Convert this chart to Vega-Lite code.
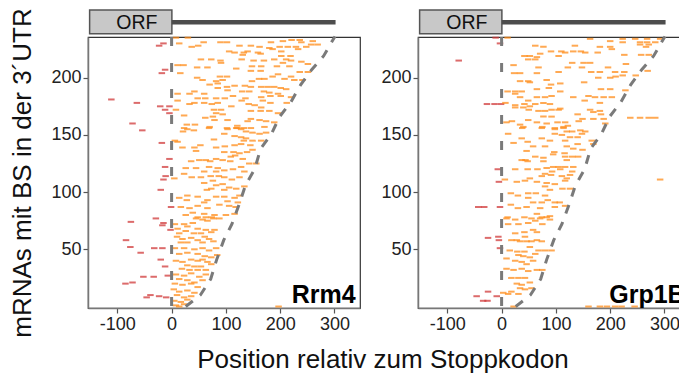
{
"$schema": "https://vega.github.io/schema/vega-lite/v6.json",
"background": "white",
"padding": {"left": 9, "top": 7, "right": 0, "bottom": 0},
"config": {
 "font": "Liberation Sans",
 "view": {"stroke": "#333", "strokeWidth": 1.2},
 "axis": {"grid": false, "labelFont": "Liberation Sans", "labelFontSize": 18, "labelColor": "#222", "tickColor": "#555", "tickSize": 5, "tickWidth": 1.2, "domainColor": "#777", "domainWidth": 1.5, "titleFont": "Liberation Sans", "titleFontSize": 26, "titleFontWeight": "normal", "titleColor": "#111", "labelPadding": 2},
 "concat": {"spacing": 19},
 "title": {"font": "Liberation Sans", "fontSize": 26, "fontWeight": "normal", "color": "#111"}
},
"title": {"text": "Position relativ zum Stoppkodon", "orient": "bottom", "anchor": "middle", "offset": 9, "dx": 33},
"datasets": {
 "utr": [{"x":26,"y":0},{"x":53,"y":10},{"x":72,"y":24},{"x":83,"y":41},{"x":96,"y":58},{"x":111,"y":72},{"x":125,"y":90},{"x":136,"y":106},{"x":153,"y":120},{"x":164,"y":138},{"x":184,"y":151},{"x":199,"y":166},{"x":220,"y":179},{"x":238,"y":194},{"x":258,"y":207},{"x":280,"y":219},{"x":297,"y":233},{"x":301,"y":236}],
 "pts": [
{"p":"R","x":-15,"y":230},{"p":"R","x":-23,"y":228},{"p":"R","x":-12,"y":207},{"p":"R","x":-18,"y":204},{"p":"R","x":-111,"y":181},{"p":"R","x":-64,"y":178},{"p":"R","x":-21,"y":175},{"p":"R","x":-4,"y":175},{"p":"R","x":-12,"y":172},{"p":"R","x":-4,"y":169},{"p":"R","x":-72,"y":160},{"p":"R","x":-54,"y":154},{"p":"R","x":-18,"y":143},{"p":"R","x":-4,"y":129},{"p":"R","x":-12,"y":122},{"p":"R","x":-11,"y":114},{"p":"R","x":-15,"y":111},{"p":"R","x":-20,"y":102},{"p":"R","x":-1,"y":87},{"p":"R","x":-29,"y":77},{"p":"R","x":-75,"y":74},{"p":"R","x":-15,"y":73},{"p":"R","x":-17,"y":71},{"p":"R","x":-2,"y":67},{"p":"R","x":-84,"y":58},{"p":"R","x":-76,"y":52},{"p":"R","x":-57,"y":47},{"p":"R","x":-32,"y":51},{"p":"R","x":-17,"y":51},{"p":"R","x":-20,"y":41},{"p":"R","x":-12,"y":35},{"p":"R","x":-52,"y":26},{"p":"R","x":-33,"y":26},{"p":"R","x":-7,"y":27},{"p":"R","x":-85,"y":20},{"p":"R","x":-72,"y":21},{"p":"R","x":-46,"y":8},{"p":"R","x":-39,"y":10},{"p":"R","x":-23,"y":9},{"p":"R","x":-10,"y":8},
{"p":"R","x":8,"y":235},{"p":"R","x":30,"y":235},
{"p":"R","x":14,"y":230},{"p":"R","x":59,"y":231},{"p":"R","x":90,"y":231},{"p":"R","x":102,"y":231},{"p":"R","x":183,"y":231},{"p":"R","x":205,"y":232},{"p":"R","x":221,"y":233},{"p":"R","x":236,"y":233},{"p":"R","x":239,"y":231},{"p":"R","x":260,"y":232},{"p":"R","x":269,"y":229},{"p":"R","x":257,"y":229},
{"p":"R","x":37,"y":227},{"p":"R","x":49,"y":228},{"p":"R","x":125,"y":228},{"p":"R","x":146,"y":228},{"p":"R","x":162,"y":227},{"p":"R","x":180,"y":226},{"p":"R","x":199,"y":227},{"p":"R","x":214,"y":227},{"p":"R","x":229,"y":227},{"p":"R","x":248,"y":227},
{"p":"R","x":106,"y":223},{"p":"R","x":116,"y":222},{"p":"R","x":133,"y":222},{"p":"R","x":140,"y":223},{"p":"R","x":159,"y":222},{"p":"R","x":186,"y":225},{"p":"R","x":202,"y":223},{"p":"R","x":233,"y":225},
{"p":"R","x":131,"y":220},{"p":"R","x":164,"y":221},{"p":"R","x":219,"y":219},{"p":"R","x":202,"y":219},
{"p":"R","x":54,"y":216},{"p":"R","x":73,"y":216},{"p":"R","x":90,"y":215},{"p":"R","x":129,"y":216},{"p":"R","x":151,"y":215},{"p":"R","x":170,"y":215},{"p":"R","x":189,"y":216},{"p":"R","x":211,"y":216},{"p":"R","x":220,"y":215},
{"p":"R","x":91,"y":213},{"p":"R","x":205,"y":213},{"p":"R","x":239,"y":214},{"p":"R","x":251,"y":212},
{"p":"R","x":11,"y":211},{"p":"R","x":22,"y":211},{"p":"R","x":47,"y":209},{"p":"R","x":66,"y":209},{"p":"R","x":119,"y":208},{"p":"R","x":148,"y":210},{"p":"R","x":165,"y":210},{"p":"R","x":194,"y":210},{"p":"R","x":217,"y":210},
{"p":"R","x":146,"y":206},{"p":"R","x":164,"y":206},{"p":"R","x":236,"y":205},{"p":"R","x":251,"y":205},
{"p":"R","x":16,"y":204},{"p":"R","x":196,"y":203},{"p":"R","x":220,"y":201},{"p":"R","x":186,"y":201},{"p":"R","x":89,"y":201},{"p":"R","x":102,"y":201},
{"p":"R","x":47,"y":200},{"p":"R","x":57,"y":198},{"p":"R","x":82,"y":197},{"p":"R","x":94,"y":198},{"p":"R","x":161,"y":199},{"p":"R","x":171,"y":199},{"p":"R","x":208,"y":199},{"p":"R","x":226,"y":198},{"p":"R","x":241,"y":198},{"p":"R","x":148,"y":197},{"p":"R","x":70,"y":194},{"p":"R","x":85,"y":195},
{"p":"R","x":85,"y":191},{"p":"R","x":102,"y":192},{"p":"R","x":116,"y":193},{"p":"R","x":165,"y":192},{"p":"R","x":177,"y":192},{"p":"R","x":189,"y":192},{"p":"R","x":201,"y":191},{"p":"R","x":211,"y":190},{"p":"R","x":135,"y":193},{"p":"R","x":146,"y":192},
{"p":"R","x":42,"y":188},{"p":"R","x":60,"y":186},{"p":"R","x":103,"y":189},{"p":"R","x":130,"y":188},{"p":"R","x":143,"y":188},{"p":"R","x":170,"y":188},{"p":"R","x":180,"y":187},{"p":"R","x":196,"y":186},{"p":"R","x":220,"y":183},
{"p":"R","x":11,"y":186},{"p":"R","x":33,"y":186},{"p":"R","x":48,"y":182},{"p":"R","x":62,"y":182},{"p":"R","x":82,"y":182},{"p":"R","x":98,"y":182},{"p":"R","x":113,"y":184},{"p":"R","x":136,"y":182},{"p":"R","x":165,"y":183},{"p":"R","x":182,"y":184},{"p":"R","x":201,"y":184},{"p":"R","x":168,"y":180},
{"p":"R","x":11,"y":180},{"p":"R","x":33,"y":177},{"p":"R","x":42,"y":178},{"p":"R","x":60,"y":178},{"p":"R","x":74,"y":177},{"p":"R","x":85,"y":178},{"p":"R","x":110,"y":175},{"p":"R","x":129,"y":180},{"p":"R","x":142,"y":177},{"p":"R","x":153,"y":176},{"p":"R","x":165,"y":174},{"p":"R","x":182,"y":178},{"p":"R","x":212,"y":178},
{"p":"R","x":8,"y":172},{"p":"R","x":23,"y":167},{"p":"R","x":78,"y":172},{"p":"R","x":91,"y":172},{"p":"R","x":82,"y":169},{"p":"R","x":94,"y":168},{"p":"R","x":164,"y":171},{"p":"R","x":180,"y":171},{"p":"R","x":196,"y":169},{"p":"R","x":146,"y":171},
{"p":"R","x":62,"y":165},{"p":"R","x":76,"y":166},{"p":"R","x":79,"y":163},{"p":"R","x":103,"y":163},{"p":"R","x":140,"y":162},{"p":"R","x":146,"y":164},{"p":"R","x":162,"y":163},{"p":"R","x":174,"y":162},{"p":"R","x":189,"y":161},
{"p":"R","x":28,"y":159},{"p":"R","x":43,"y":159},{"p":"R","x":121,"y":158},{"p":"R","x":121,"y":156},{"p":"R","x":133,"y":156},{"p":"R","x":146,"y":156},{"p":"R","x":171,"y":157},{"p":"R","x":70,"y":157},{"p":"R","x":102,"y":156},{"p":"R","x":23,"y":156},
{"p":"R","x":29,"y":155},{"p":"R","x":41,"y":154},{"p":"R","x":69,"y":156},{"p":"R","x":103,"y":155},{"p":"R","x":119,"y":156},{"p":"R","x":128,"y":155},{"p":"R","x":137,"y":153},{"p":"R","x":149,"y":152},{"p":"R","x":162,"y":151},{"p":"R","x":174,"y":152},{"p":"R","x":21,"y":153},
{"p":"R","x":97,"y":151},{"p":"R","x":116,"y":149},{"p":"R","x":128,"y":148},{"p":"R","x":137,"y":147},{"p":"R","x":149,"y":145},{"p":"R","x":165,"y":145},{"p":"R","x":133,"y":145},{"p":"R","x":78,"y":146},{"p":"R","x":6,"y":145},{"p":"R","x":11,"y":144},
{"p":"R","x":20,"y":139},{"p":"R","x":42,"y":139},{"p":"R","x":53,"y":141},{"p":"R","x":82,"y":139},{"p":"R","x":98,"y":140},{"p":"R","x":116,"y":141},{"p":"R","x":128,"y":142},{"p":"R","x":145,"y":141},
{"p":"R","x":45,"y":136},{"p":"R","x":97,"y":135},{"p":"R","x":114,"y":135},{"p":"R","x":125,"y":134},{"p":"R","x":139,"y":135},{"p":"R","x":149,"y":137},{"p":"R","x":109,"y":131},{"p":"R","x":117,"y":132},
{"p":"R","x":36,"y":127},{"p":"R","x":51,"y":128},{"p":"R","x":63,"y":128},{"p":"R","x":71,"y":127},{"p":"R","x":82,"y":129},{"p":"R","x":94,"y":128},{"p":"R","x":108,"y":127},{"p":"R","x":131,"y":129},{"p":"R","x":143,"y":125},{"p":"R","x":156,"y":125},
{"p":"R","x":26,"y":121},{"p":"R","x":45,"y":121},{"p":"R","x":69,"y":122},{"p":"R","x":85,"y":121},{"p":"R","x":97,"y":119},{"p":"R","x":113,"y":120},{"p":"R","x":128,"y":122},{"p":"R","x":134,"y":118},{"p":"R","x":60,"y":118},{"p":"R","x":82,"y":118},
{"p":"R","x":23,"y":116},{"p":"R","x":37,"y":113},{"p":"R","x":54,"y":113},{"p":"R","x":72,"y":114},{"p":"R","x":87,"y":114},{"p":"R","x":97,"y":113},{"p":"R","x":111,"y":111},{"p":"R","x":125,"y":113},{"p":"R","x":5,"y":112},{"p":"R","x":76,"y":110},
{"p":"R","x":60,"y":108},{"p":"R","x":82,"y":106},{"p":"R","x":94,"y":107},{"p":"R","x":106,"y":104},{"p":"R","x":119,"y":103},{"p":"R","x":134,"y":105},{"p":"R","x":73,"y":103},{"p":"R","x":97,"y":102},{"p":"R","x":65,"y":102},
{"p":"R","x":14,"y":95},{"p":"R","x":29,"y":97},{"p":"R","x":48,"y":96},{"p":"R","x":66,"y":93},{"p":"R","x":82,"y":96},{"p":"R","x":97,"y":96},{"p":"R","x":116,"y":95},{"p":"R","x":125,"y":97},{"p":"R","x":28,"y":93},{"p":"R","x":60,"y":91},{"p":"R","x":103,"y":92},{"p":"R","x":122,"y":91},
{"p":"R","x":17,"y":87},{"p":"R","x":33,"y":86},{"p":"R","x":48,"y":88},{"p":"R","x":66,"y":86},{"p":"R","x":88,"y":89},{"p":"R","x":106,"y":88},{"p":"R","x":118,"y":87},{"p":"R","x":39,"y":82},{"p":"R","x":60,"y":81},{"p":"R","x":79,"y":80},{"p":"R","x":100,"y":80},{"p":"R","x":116,"y":81},{"p":"R","x":26,"y":80},{"p":"R","x":48,"y":78},{"p":"R","x":74,"y":78},
{"p":"R","x":6,"y":72},{"p":"R","x":23,"y":72},{"p":"R","x":39,"y":73},{"p":"R","x":57,"y":76},{"p":"R","x":66,"y":75},{"p":"R","x":77,"y":77},{"p":"R","x":88,"y":77},{"p":"R","x":45,"y":77},{"p":"R","x":63,"y":78},
{"p":"R","x":11,"y":68},{"p":"R","x":29,"y":70},{"p":"R","x":48,"y":68},{"p":"R","x":63,"y":67},{"p":"R","x":79,"y":67},{"p":"R","x":14,"y":64},{"p":"R","x":26,"y":66},{"p":"R","x":41,"y":64},{"p":"R","x":54,"y":64},{"p":"R","x":73,"y":65},
{"p":"R","x":10,"y":61},{"p":"R","x":20,"y":59},{"p":"R","x":36,"y":60},{"p":"R","x":48,"y":58},{"p":"R","x":61,"y":61},{"p":"R","x":69,"y":59},{"p":"R","x":17,"y":56},{"p":"R","x":29,"y":56},{"p":"R","x":57,"y":56},{"p":"R","x":77,"y":57},
{"p":"R","x":6,"y":51},{"p":"R","x":23,"y":51},{"p":"R","x":42,"y":50},{"p":"R","x":57,"y":51},{"p":"R","x":69,"y":49},{"p":"R","x":82,"y":51},{"p":"R","x":14,"y":46},{"p":"R","x":29,"y":47},{"p":"R","x":48,"y":46},{"p":"R","x":61,"y":44},{"p":"R","x":73,"y":43},{"p":"R","x":84,"y":45},
{"p":"R","x":8,"y":40},{"p":"R","x":20,"y":39},{"p":"R","x":36,"y":41},{"p":"R","x":48,"y":40},{"p":"R","x":57,"y":41},{"p":"R","x":66,"y":39},{"p":"R","x":29,"y":36},{"p":"R","x":42,"y":35},{"p":"R","x":54,"y":35},{"p":"R","x":73,"y":37},{"p":"R","x":19,"y":33},{"p":"R","x":33,"y":32},{"p":"R","x":48,"y":32},{"p":"R","x":63,"y":32},
{"p":"R","x":8,"y":28},{"p":"R","x":23,"y":27},{"p":"R","x":36,"y":29},{"p":"R","x":51,"y":26},{"p":"R","x":63,"y":28},{"p":"R","x":14,"y":24},{"p":"R","x":29,"y":23},{"p":"R","x":42,"y":21},{"p":"R","x":57,"y":23},{"p":"R","x":6,"y":20},{"p":"R","x":20,"y":19},{"p":"R","x":36,"y":20},{"p":"R","x":48,"y":17},
{"p":"R","x":4,"y":15},{"p":"R","x":14,"y":13},{"p":"R","x":29,"y":14},{"p":"R","x":42,"y":12},{"p":"R","x":10,"y":10},{"p":"R","x":23,"y":8},{"p":"R","x":36,"y":9},{"p":"R","x":5,"y":5},{"p":"R","x":17,"y":4},{"p":"R","x":29,"y":6},{"p":"R","x":8,"y":1},{"p":"R","x":14,"y":0},{"p":"R","x":23,"y":2},{"p":"R","x":197,"y":0},
{"p":"G","x":-11,"y":235},{"p":"G","x":-3,"y":230},{"p":"G","x":-79,"y":215},{"p":"G","x":-27,"y":177},{"p":"G","x":-13,"y":177},{"p":"G","x":-1,"y":177},{"p":"G","x":-7,"y":120},{"p":"G","x":-5,"y":109},{"p":"G","x":-43,"y":87},{"p":"G","x":-32,"y":87},{"p":"G","x":-3,"y":87},{"p":"G","x":-25,"y":60},{"p":"G","x":-6,"y":61},{"p":"G","x":-5,"y":58},{"p":"G","x":-3,"y":51},{"p":"G","x":-46,"y":9},{"p":"G","x":-25,"y":13},{"p":"G","x":-9,"y":9},{"p":"G","x":-26,"y":5},{"p":"G","x":-34,"y":5},
{"p":"G","x":11,"y":235},{"p":"G","x":163,"y":234},{"p":"G","x":200,"y":232},{"p":"G","x":223,"y":234},{"p":"G","x":223,"y":231},{"p":"G","x":246,"y":234},{"p":"G","x":268,"y":234},{"p":"G","x":268,"y":231},{"p":"G","x":255,"y":231},{"p":"G","x":283,"y":231},{"p":"G","x":292,"y":234},
{"p":"G","x":62,"y":228},{"p":"G","x":77,"y":227},{"p":"G","x":135,"y":228},{"p":"G","x":181,"y":227},{"p":"G","x":200,"y":227},{"p":"G","x":203,"y":225},{"p":"G","x":255,"y":229},{"p":"G","x":271,"y":229},{"p":"G","x":266,"y":227},
{"p":"G","x":71,"y":221},{"p":"G","x":91,"y":223},{"p":"G","x":110,"y":223},{"p":"G","x":117,"y":222},{"p":"G","x":132,"y":223},{"p":"G","x":146,"y":223},{"p":"G","x":154,"y":222},{"p":"G","x":177,"y":222},{"p":"G","x":226,"y":220},{"p":"G","x":257,"y":220},{"p":"G","x":271,"y":220},
{"p":"G","x":42,"y":219},{"p":"G","x":52,"y":219},{"p":"G","x":65,"y":218},{"p":"G","x":105,"y":219},{"p":"G","x":49,"y":216},{"p":"G","x":62,"y":216},
{"p":"G","x":130,"y":213},{"p":"G","x":151,"y":213},{"p":"G","x":163,"y":213},{"p":"G","x":229,"y":212},{"p":"G","x":122,"y":209},{"p":"G","x":148,"y":209},{"p":"G","x":196,"y":209},{"p":"G","x":68,"y":209},{"p":"G","x":22,"y":211},
{"p":"G","x":23,"y":204},{"p":"G","x":34,"y":204},{"p":"G","x":65,"y":204},{"p":"G","x":105,"y":205},{"p":"G","x":165,"y":205},{"p":"G","x":181,"y":205},{"p":"G","x":209,"y":205},{"p":"G","x":226,"y":205},{"p":"G","x":178,"y":200},{"p":"G","x":200,"y":200},{"p":"G","x":210,"y":201},{"p":"G","x":223,"y":202},{"p":"G","x":247,"y":202},{"p":"G","x":269,"y":206},
{"p":"G","x":34,"y":197},{"p":"G","x":49,"y":197},{"p":"G","x":52,"y":196},{"p":"G","x":83,"y":198},{"p":"G","x":91,"y":194},{"p":"G","x":108,"y":195},{"p":"G","x":152,"y":196},{"p":"G","x":87,"y":191},
{"p":"G","x":183,"y":190},{"p":"G","x":200,"y":190},{"p":"G","x":11,"y":188},{"p":"G","x":25,"y":188},{"p":"G","x":37,"y":188},{"p":"G","x":65,"y":190},{"p":"G","x":108,"y":188},{"p":"G","x":25,"y":186},{"p":"G","x":34,"y":183},{"p":"G","x":65,"y":183},{"p":"G","x":80,"y":183},{"p":"G","x":92,"y":184},{"p":"G","x":132,"y":183},{"p":"G","x":160,"y":184},{"p":"G","x":172,"y":183},{"p":"G","x":188,"y":183},{"p":"G","x":203,"y":183},{"p":"G","x":228,"y":189},
{"p":"G","x":7,"y":178},{"p":"G","x":25,"y":176},{"p":"G","x":42,"y":177},{"p":"G","x":49,"y":180},{"p":"G","x":62,"y":177},{"p":"G","x":77,"y":178},{"p":"G","x":89,"y":177},{"p":"G","x":52,"y":175},{"p":"G","x":40,"y":174},{"p":"G","x":153,"y":180},{"p":"G","x":181,"y":178},{"p":"G","x":25,"y":174},
{"p":"G","x":68,"y":171},{"p":"G","x":80,"y":171},{"p":"G","x":92,"y":172},{"p":"G","x":105,"y":172},{"p":"G","x":108,"y":173},{"p":"G","x":50,"y":172},{"p":"G","x":140,"y":168},{"p":"G","x":163,"y":172},{"p":"G","x":169,"y":170},{"p":"G","x":181,"y":171},{"p":"G","x":183,"y":168},{"p":"G","x":77,"y":166},{"p":"G","x":92,"y":166},{"p":"G","x":188,"y":164},{"p":"G","x":169,"y":164},{"p":"G","x":149,"y":164},{"p":"G","x":237,"y":165},{"p":"G","x":255,"y":165},{"p":"G","x":271,"y":165},{"p":"G","x":283,"y":165},
{"p":"G","x":9,"y":161},{"p":"G","x":19,"y":162},{"p":"G","x":49,"y":163},{"p":"G","x":65,"y":161},{"p":"G","x":83,"y":160},{"p":"G","x":103,"y":161},{"p":"G","x":117,"y":161},{"p":"G","x":142,"y":162},{"p":"G","x":34,"y":159},{"p":"G","x":40,"y":157},{"p":"G","x":75,"y":157},{"p":"G","x":98,"y":156},{"p":"G","x":114,"y":157},{"p":"G","x":122,"y":158},{"p":"G","x":191,"y":160},
{"p":"G","x":38,"y":156},{"p":"G","x":74,"y":156},{"p":"G","x":98,"y":155},{"p":"G","x":114,"y":156},{"p":"G","x":120,"y":153},{"p":"G","x":130,"y":153},{"p":"G","x":145,"y":154},{"p":"G","x":154,"y":153},{"p":"G","x":148,"y":151},{"p":"G","x":12,"y":151},{"p":"G","x":98,"y":151},{"p":"G","x":111,"y":150},{"p":"G","x":126,"y":148},{"p":"G","x":140,"y":148},
{"p":"G","x":22,"y":143},{"p":"G","x":37,"y":147},{"p":"G","x":48,"y":144},{"p":"G","x":74,"y":147},{"p":"G","x":89,"y":145},{"p":"G","x":117,"y":145},{"p":"G","x":140,"y":142},{"p":"G","x":166,"y":145},{"p":"G","x":169,"y":142},{"p":"G","x":58,"y":140},{"p":"G","x":80,"y":140},{"p":"G","x":120,"y":140},{"p":"G","x":132,"y":138},{"p":"G","x":149,"y":137},
{"p":"G","x":46,"y":136},{"p":"G","x":97,"y":135},{"p":"G","x":116,"y":134},{"p":"G","x":130,"y":131},{"p":"G","x":141,"y":131},{"p":"G","x":95,"y":133},{"p":"G","x":77,"y":130},{"p":"G","x":62,"y":131},{"p":"G","x":44,"y":128},{"p":"G","x":37,"y":128},{"p":"G","x":48,"y":127},{"p":"G","x":77,"y":127},{"p":"G","x":117,"y":131},{"p":"G","x":120,"y":128},
{"p":"G","x":25,"y":120},{"p":"G","x":48,"y":120},{"p":"G","x":66,"y":120},{"p":"G","x":83,"y":121},{"p":"G","x":95,"y":122},{"p":"G","x":105,"y":122},{"p":"G","x":117,"y":122},{"p":"G","x":132,"y":122},{"p":"G","x":93,"y":118},{"p":"G","x":108,"y":120},{"p":"G","x":130,"y":118},{"p":"G","x":80,"y":116},{"p":"G","x":91,"y":115},{"p":"G","x":111,"y":114},{"p":"G","x":126,"y":115},{"p":"G","x":74,"y":114},
{"p":"G","x":6,"y":111},{"p":"G","x":28,"y":109},{"p":"G","x":43,"y":110},{"p":"G","x":52,"y":112},{"p":"G","x":65,"y":109},{"p":"G","x":83,"y":108},{"p":"G","x":98,"y":107},{"p":"G","x":117,"y":110},{"p":"G","x":120,"y":112},{"p":"G","x":112,"y":103},{"p":"G","x":126,"y":103},{"p":"G","x":89,"y":102},{"p":"G","x":80,"y":105},{"p":"G","x":292,"y":111},
{"p":"G","x":17,"y":99},{"p":"G","x":30,"y":97},{"p":"G","x":49,"y":99},{"p":"G","x":63,"y":99},{"p":"G","x":80,"y":97},{"p":"G","x":49,"y":95},{"p":"G","x":85,"y":93},{"p":"G","x":58,"y":91},{"p":"G","x":74,"y":91},{"p":"G","x":98,"y":91},{"p":"G","x":107,"y":91},{"p":"G","x":17,"y":89},{"p":"G","x":30,"y":86},{"p":"G","x":46,"y":87},{"p":"G","x":71,"y":86},{"p":"G","x":98,"y":87},{"p":"G","x":117,"y":88},{"p":"G","x":11,"y":78},{"p":"G","x":42,"y":78},{"p":"G","x":65,"y":81},{"p":"G","x":74,"y":78},{"p":"G","x":89,"y":79},
{"p":"G","x":9,"y":77},{"p":"G","x":25,"y":76},{"p":"G","x":55,"y":77},{"p":"G","x":71,"y":77},{"p":"G","x":83,"y":78},{"p":"G","x":89,"y":76},{"p":"G","x":12,"y":72},{"p":"G","x":31,"y":72},{"p":"G","x":49,"y":73},{"p":"G","x":62,"y":75},{"p":"G","x":75,"y":72},
{"p":"G","x":25,"y":64},{"p":"G","x":42,"y":65},{"p":"G","x":58,"y":67},{"p":"G","x":65,"y":65},{"p":"G","x":28,"y":58},{"p":"G","x":34,"y":57},{"p":"G","x":46,"y":57},{"p":"G","x":55,"y":57},{"p":"G","x":65,"y":58},{"p":"G","x":74,"y":57},{"p":"G","x":18,"y":58},{"p":"G","x":43,"y":61},
{"p":"G","x":15,"y":49},{"p":"G","x":29,"y":48},{"p":"G","x":42,"y":48},{"p":"G","x":52,"y":52},{"p":"G","x":68,"y":49},{"p":"G","x":80,"y":49},{"p":"G","x":92,"y":49},{"p":"G","x":31,"y":45},{"p":"G","x":40,"y":44},{"p":"G","x":52,"y":43},{"p":"G","x":62,"y":46},{"p":"G","x":9,"y":42},{"p":"G","x":25,"y":40},{"p":"G","x":37,"y":39},{"p":"G","x":58,"y":40},{"p":"G","x":46,"y":37},
{"p":"G","x":9,"y":33},{"p":"G","x":22,"y":32},{"p":"G","x":37,"y":33},{"p":"G","x":49,"y":31},{"p":"G","x":65,"y":32},{"p":"G","x":75,"y":32},{"p":"G","x":18,"y":25},{"p":"G","x":31,"y":25},{"p":"G","x":43,"y":25},{"p":"G","x":28,"y":20},{"p":"G","x":37,"y":19},{"p":"G","x":52,"y":21},{"p":"G","x":34,"y":16},{"p":"G","x":43,"y":15},{"p":"G","x":55,"y":16},{"p":"G","x":3,"y":12},{"p":"G","x":18,"y":13},{"p":"G","x":31,"y":11},{"p":"G","x":12,"y":11},
{"p":"G","x":160,"y":0},{"p":"G","x":181,"y":0},{"p":"G","x":194,"y":0},{"p":"G","x":209,"y":0},{"p":"G","x":221,"y":0},{"p":"G","x":245,"y":0},{"p":"G","x":22,"y":0}
 ]
},
"hconcat": [
 {
  "width": 272, "height": 271,
  "layer": [
   {"data": {"name": "pts"}, "transform": [{"filter": "datum.p === 'R'"}],
    "mark": {"type": "tick", "orient": "horizontal", "size": 6.5, "thickness": 2},
    "encoding": {
     "x": {"field": "x", "type": "quantitative", "scale": {"domain": [-154, 347], "nice": false, "zero": false}, "axis": {"values": [-100, 0, 100, 200, 300], "title": null, "labelExpr": "replace(datum.label, '\u2212', '-')"}},
     "y": {"field": "y", "type": "quantitative", "scale": {"domain": [-1.3, 235.6], "nice": false, "zero": false}, "axis": {"values": [50, 100, 150, 200], "title": "mRNAs mit BS in der 3´UTR", "titlePadding": 15}},
     "color": {"condition": {"test": "datum.x < 0", "value": "#D03A3A"}, "value": "#FF8C1A"},
     "opacity": {"value": 0.75}
    }},
   {"data": {"name": "utr"}, "mark": {"type": "line", "strokeDash": [9, 9], "strokeWidth": 3, "color": "#7a7a7a"},
    "encoding": {"x": {"field": "x", "type": "quantitative"}, "y": {"field": "y", "type": "quantitative"}}},
   {"data": {"values": [{}]}, "mark": {"type": "rule", "strokeDash": [9, 17], "strokeWidth": 3, "color": "#7a7a7a"}, "encoding": {"x": {"datum": 0}}},
   {"data": {"values": [{}]}, "mark": {"type": "rect", "fill": "#c8c8c8", "stroke": "#555", "strokeWidth": 1.5}, "encoding": {"x": {"datum": -151}, "x2": {"datum": 0.5}, "y": {"datum": 238.5}, "y2": {"datum": 259.2}}},
   {"data": {"values": [{}]}, "mark": {"type": "rule", "strokeWidth": 4.5, "color": "#4d4d4d"}, "encoding": {"x": {"datum": 0.5}, "x2": {"datum": 302}, "y": {"datum": 248.4}}},
   {"data": {"values": [{}]}, "mark": {"type": "text", "fontSize": 19.5, "align": "center", "baseline": "alphabetic", "color": "#111"}, "encoding": {"x": {"datum": -64}, "y": {"datum": 242.3}, "text": {"value": "ORF"}}},
   {"data": {"values": [{}]}, "mark": {"type": "text", "fontSize": 25, "fontWeight": "bold", "align": "right", "baseline": "alphabetic", "color": "#000"}, "encoding": {"x": {"datum": 339}, "y": {"datum": 2.8}, "text": {"value": "Rrm4"}}}
  ]
 },
 {
  "width": 272, "height": 271,
  "layer": [
   {"data": {"name": "pts"}, "transform": [{"filter": "datum.p === 'G'"}],
    "mark": {"type": "tick", "orient": "horizontal", "size": 6.5, "thickness": 2},
    "encoding": {
     "x": {"field": "x", "type": "quantitative", "scale": {"domain": [-154, 347], "nice": false, "zero": false}, "axis": {"values": [-100, 0, 100, 200, 300], "title": null, "labelExpr": "replace(datum.label, '\u2212', '-')"}},
     "y": {"field": "y", "type": "quantitative", "scale": {"domain": [-1.3, 235.6], "nice": false, "zero": false}, "axis": {"values": [50, 100, 150, 200], "title": null}},
     "color": {"condition": {"test": "datum.x < 0", "value": "#D03A3A"}, "value": "#FF8C1A"},
     "opacity": {"value": 0.75}
    }},
   {"data": {"name": "utr"}, "mark": {"type": "line", "strokeDash": [9, 9], "strokeWidth": 3, "color": "#7a7a7a"},
    "encoding": {"x": {"field": "x", "type": "quantitative"}, "y": {"field": "y", "type": "quantitative"}}},
   {"data": {"values": [{}]}, "mark": {"type": "rule", "strokeDash": [9, 17], "strokeWidth": 3, "color": "#7a7a7a"}, "encoding": {"x": {"datum": 0}}},
   {"data": {"values": [{}]}, "mark": {"type": "rect", "fill": "#c8c8c8", "stroke": "#555", "strokeWidth": 1.5}, "encoding": {"x": {"datum": -151}, "x2": {"datum": 0.5}, "y": {"datum": 238.5}, "y2": {"datum": 259.2}}},
   {"data": {"values": [{}]}, "mark": {"type": "rule", "strokeWidth": 4.5, "color": "#4d4d4d"}, "encoding": {"x": {"datum": 0.5}, "x2": {"datum": 302}, "y": {"datum": 248.4}}},
   {"data": {"values": [{}]}, "mark": {"type": "text", "fontSize": 19.5, "align": "center", "baseline": "alphabetic", "color": "#111"}, "encoding": {"x": {"datum": -64}, "y": {"datum": 242.3}, "text": {"value": "ORF"}}},
   {"data": {"values": [{}]}, "mark": {"type": "text", "fontSize": 25, "fontWeight": "bold", "align": "right", "baseline": "alphabetic", "color": "#000"}, "encoding": {"x": {"datum": 339}, "y": {"datum": 2.8}, "text": {"value": "Grp1B"}}}
  ]
 }
]
}
